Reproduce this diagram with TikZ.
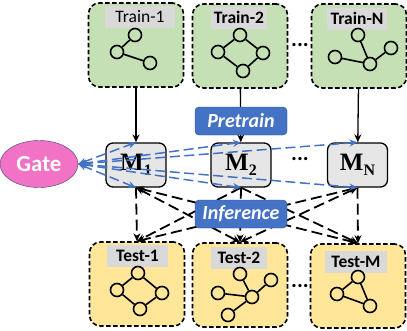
\documentclass[tikz,border=0pt]{standalone}
\usepackage[no-math]{fontspec}
\setmainfont{Carlito}
\newfontfamily\modelfont{Liberation Serif}
\usetikzlibrary{arrows.meta,shapes.geometric}
\definecolor{traingreen}{HTML}{C5E0B4}
\definecolor{testyellow}{HTML}{FFE699}
\definecolor{taggray}{HTML}{D9D9D9}
\definecolor{modelgray}{HTML}{E7E6E6}
\definecolor{phaseblue}{HTML}{4472C4}
\definecolor{gatepink}{HTML}{F272C6}
\definecolor{gateborder}{HTML}{3B3F6E}
\newcommand{\modelname}[1]{{\modelfont\bfseries\fontsize{25}{25}\selectfont M\raisebox{-5pt}{\fontsize{16}{16}\selectfont #1}}}
\begin{document}
\begin{tikzpicture}[x=1pt,y=-1pt,>={Stealth[length=8pt,width=7pt]},
	trainbox/.style={draw,dash pattern=on 4.5pt off 2.5pt,line width=1.6pt,rounded corners=11pt,fill=traingreen,minimum width=95pt,minimum height=84pt},
	testbox/.style={trainbox,fill=testyellow},
	tag/.style={fill=taggray,font=\fontsize{17.5}{17.5}\selectfont\bfseries,inner xsep=2pt,minimum width=56pt,minimum height=22pt},
	vert/.style={circle,draw,line width=1.6pt,minimum size=13pt,inner sep=0pt},
	model/.style={draw,line width=1.3pt,rounded corners=7pt,fill=modelgray,minimum width=60pt,minimum height=44pt},
	phase/.style={fill=phaseblue,draw=phaseblue!70!black,rounded corners=4pt,text=white,font=\fontsize{20}{20}\selectfont\bfseries\itshape,minimum width=92pt,minimum height=28pt,inner sep=1pt},
	gateline/.style={<->,dash pattern=on 10pt off 4.5pt,line width=1.5pt,draw=phaseblue},
	infer/.style={dash pattern=on 11pt off 5pt,line width=1.8pt},
	gedge/.style={line width=1.6pt}]
	\useasboundingbox (0,0) rectangle (407,330);
	% training sets
	\node[trainbox] (train1) at (136,45) {};
	\node[trainbox] (train2) at (240,46) {};
	\node[trainbox] (trainN) at (359,46) {};
	\node[tag,minimum width=70pt,font=\fontsize{17.5}{17.5}\selectfont] (tag1) at (140,17) {Train-1};
	\node[tag] (tag2) at (239,17.5) {Train-2};
	\node[tag,minimum width=60pt] (tagN) at (357,18.5) {Train-N};
	\node (dotsA) at (300,45) {\fontsize{22}{22}\selectfont\textbf{...}};
	% graphs of the training sets
	\node[vert] (a1) at (135,35) {};
	\node[vert] (a2) at (117,52) {};
	\node[vert] (a3) at (150,63) {};
	\draw[gedge] (a1) -- (a2) -- (a3);
	\node[vert] (b1) at (240,35) {};
	\node[vert] (b2) at (218,52) {};
	\node[vert] (b3) at (263,53) {};
	\node[vert] (b4) at (243,71) {};
	\draw[gedge] (b1) -- (b2) -- (b4) -- (b3) -- (b1);
	\node[vert] (c1) at (358,35) {};
	\node[vert] (c2) at (335,57) {};
	\node[vert] (c3) at (370,64) {};
	\node[vert] (c4) at (391,48) {};
	\draw[gedge] (c1) -- (c3);
	\draw[gedge] (c2) -- (c3) -- (c4);
	% test sets
	\node[testbox] (test1) at (137,284) {};
	\node[testbox] (test2) at (240,285) {};
	\node[testbox] (testM) at (358,286) {};
	\node[tag,minimum width=61pt] (tagT1) at (137.5,256) {Test-1};
	\node[tag] (tagT2) at (239,257.5) {Test-2};
	\node[tag,minimum width=62pt] (tagTM) at (356,262) {Test-M};
	\node (dotsC) at (300,286) {\fontsize{22}{22}\selectfont\textbf{...}};
	% graphs of the test sets
	\node[vert,fill=testyellow] (d1) at (138,273) {};
	\node[vert] (d2) at (117,290) {};
	\node[vert] (d3) at (162,293) {};
	\node[vert] (d4) at (140,309) {};
	\draw[gedge] (d1) -- (d2) -- (d4) -- (d3) -- (d1);
	\node[vert,fill=testyellow] (e1) at (240,274) {};
	\node[vert] (e2) at (218,293) {};
	\node[vert] (e3) at (252,297) {};
	\node[vert] (e4) at (271,280) {};
	\node[vert] (e5) at (228,315) {};
	\draw[gedge] (e1) -- (e3);
	\draw[gedge] (e2) -- (e3) -- (e4);
	\draw[gedge] (e3) -- (e5);
	\node[vert,fill=testyellow] (f1) at (358,277) {};
	\node[vert] (f2) at (337,294) {};
	\node[vert] (f3) at (370,306) {};
	\draw[gedge] (f1) -- (f2) -- (f3) -- (f1);
	% models
	\node[model] (m1) at (136,165) {\modelname{1}};
	\node[model] (m2) at (241,165) {\modelname{2}};
	\node[model] (mN) at (357.5,165) {\modelname{N}};
	\node (dotsB) at (300,159) {\fontsize{22}{22}\selectfont\textbf{...}};
	\node[ellipse,draw=gateborder,fill=gatepink,minimum width=78pt,minimum height=47pt,text=white,font=\fontsize{23}{23}\selectfont\bfseries] (gate) at (39,164) {Gate};
	% pretraining
	\draw[->,line width=1.3pt] (train1) to (m1);
	\draw[->,line width=1.3pt] (train2) to (m2);
	\draw[->,line width=1.3pt] (trainN) to (mN);
	% inference
	\draw[->,infer] (m1.south) to (test1.north);
	\draw[<->,infer] (m1.south) to (test2.north);
	\draw[<->,infer] (m1.south) to (testM.north);
	\draw[->,infer] (m2.south) to (test1.north);
	\draw[->,infer] (m2.south) to (test2.north);
	\draw[->,infer] (m2.south) to (testM.north);
	\draw[<->,infer] (mN.south) to (test1.north);
	\draw[<->,infer] (mN.south) to (test2.north);
	\draw[->,infer] (mN.south) to (testM.north);
	% gate to models
	\draw[gateline] (gate.east) to (m1.north);
	\draw[gateline] (gate.east) to (m1.south);
	\draw[gateline] (gate.east) to (m2.north);
	\draw[gateline] (gate.east) to (m2.south);
	\draw[gateline] (gate.east) to (mN.north);
	\draw[gateline] (gate.east) to (mN.south);
	\node[phase] (pretrain) at (241,121) {Pretrain};
	\node[phase] (inference) at (241,214) {Inference};
\end{tikzpicture}
\end{document}
